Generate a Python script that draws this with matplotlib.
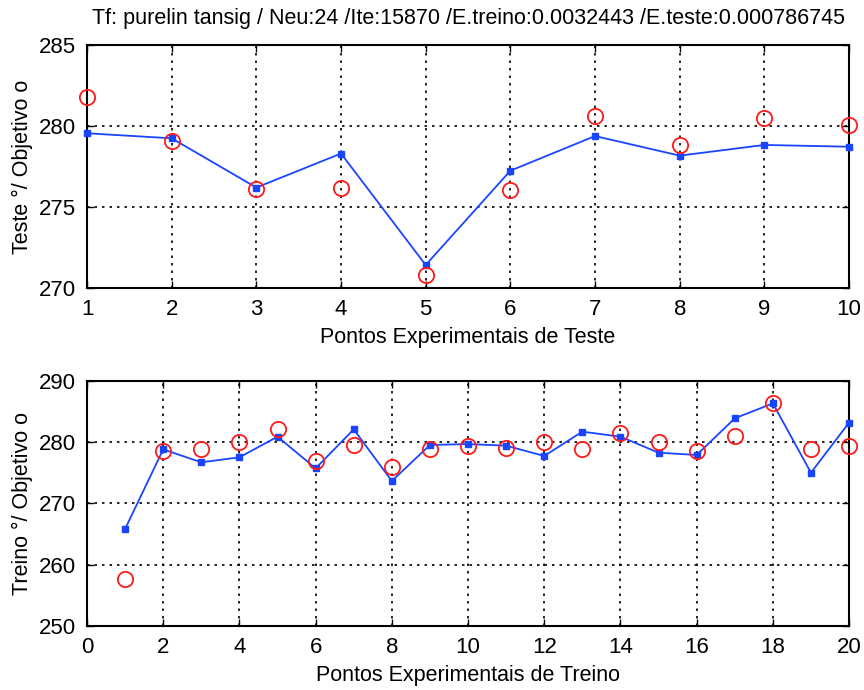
import matplotlib
matplotlib.use("Agg")
import matplotlib.pyplot as plt

plt.rcParams['font.family'] = ['Liberation Sans', 'DejaVu Sans']

title = "Tf: purelin tansig / Neu:24 /Ite:15870 /E.treino:0.0032443 /E.teste:0.000786745"

test_x = list(range(1, 11))
test_pred = [279.55, 279.24, 276.2, 278.3, 271.42, 277.24, 279.38, 278.17, 278.83, 278.72]
test_obj = [281.77, 279.07, 276.1, 276.15, 270.8, 276.05, 280.62, 278.81, 280.47, 280.06]

train_x = list(range(1, 21))
train_pred = [265.84, 278.84, 276.72, 277.54, 280.91, 275.74, 282.11, 273.67, 279.55, 279.71,
              279.44, 277.76, 281.73, 280.91, 278.3, 277.92, 283.9, 286.35, 275.03, 283.2]
train_obj = [257.62, 278.62, 278.84, 279.99, 282.22, 276.94, 279.55, 276.0, 278.95, 279.44,
             279.0, 280.0, 278.9, 281.46, 280.0, 278.62, 281.07, 286.35, 278.9, 279.39]

fig = plt.figure(figsize=(8.64, 6.9), dpi=100)
ax1 = fig.add_axes([0.1007, 0.5826, 0.882, 0.3522])
ax2 = fig.add_axes([0.1007, 0.0928, 0.882, 0.355])

blue = '#1a45ff'
red = '#ff1a1a'

def style(ax):
    ax.grid(True, color='black', linestyle=(0, (1.5, 3)), linewidth=1.2)
    for s in ax.spines.values():
        s.set_linewidth(1.5)
        s.set_color('black')
    ax.tick_params(direction='in', length=5, width=1, labelsize=16, pad=8,
                   top=True, right=True)

ax1.plot(test_x, test_pred, '-', color=blue, lw=1.3, marker='s', ms=4, clip_on=False, zorder=3)
ax1.plot(test_x, test_obj, 'o', color=red, mfc='none', mew=1.3, ms=11, clip_on=False, zorder=4)
ax1.set_xlim(1, 10)
ax1.set_ylim(270, 285)
ax1.set_xticks(test_x)
ax1.set_yticks([270, 275, 280, 285])
ax1.set_xlabel("Pontos Experimentais de Teste", fontsize=15.5, labelpad=5)
ax1.set_ylabel("Teste °/ Objetivo o", fontsize=15.5, labelpad=4)
ax1.set_title(title, fontsize=15.5, pad=15)
style(ax1)

ax2.plot(train_x, train_pred, '-', color=blue, lw=1.3, marker='s', ms=4, clip_on=False, zorder=3)
ax2.plot(train_x, train_obj, 'o', color=red, mfc='none', mew=1.3, ms=11, clip_on=False, zorder=4)
ax2.set_xlim(0, 20)
ax2.set_ylim(250, 290)
ax2.set_xticks(range(0, 21, 2))
ax2.set_yticks([250, 260, 270, 280, 290])
ax2.set_xlabel("Pontos Experimentais de Treino", fontsize=15.5, labelpad=5)
ax2.set_ylabel("Treino °/ Objetivo o", fontsize=15.5, labelpad=4)
style(ax2)

fig.savefig("out.png", dpi=100)
